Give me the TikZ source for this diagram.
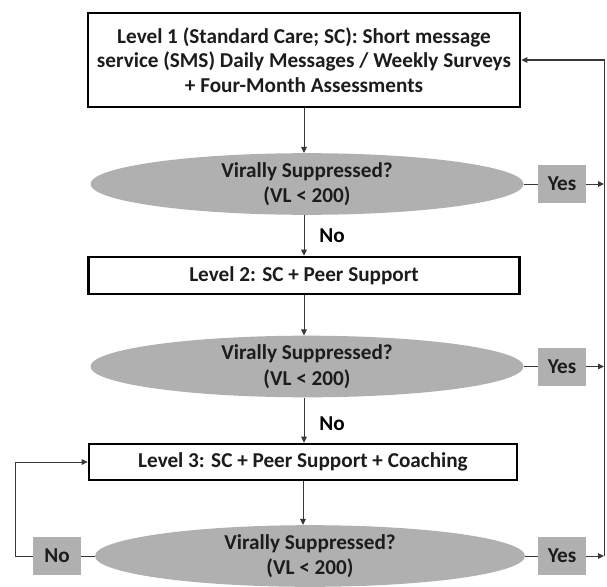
\documentclass[tikz,border=0pt]{standalone}
\usepackage{fontspec}
\setmainfont{Carlito}
\usetikzlibrary{shapes.geometric,arrows.meta}
\definecolor{boxgray}{RGB}{176,176,176}
\definecolor{ink}{RGB}{28,28,28}
\definecolor{wire}{RGB}{55,55,55}
\begin{document}
\begin{tikzpicture}[x=1pt,y=-1pt,
  font=\fontsize{21.2}{24.5}\selectfont\bfseries,
  levelbox/.style={draw=black, line width=2.6pt, fill=white, inner sep=0pt, align=center, text=ink},
  query/.style={ellipse, fill=boxgray, inner sep=0pt, align=center, text=ink,
    font=\fontsize{21.2}{25.5}\selectfont\bfseries,
    minimum width=433pt, minimum height=54pt},
  answer/.style={fill=boxgray, inner sep=0pt, minimum width=48pt, minimum height=38pt, text=ink},
  wirestyle/.style={draw=wire, line width=1pt},
  arr/.style={wirestyle, -{Triangle[length=6pt,width=5.5pt]}},
]
\useasboundingbox (0,0) rectangle (607,586);

% --- levels and decisions ---
\node[levelbox, minimum width=432pt, minimum height=94pt] (lvl1) at (304,60)
  {Level 1 (Standard Care; SC): Short message\\service (SMS) Daily Messages / Weekly Surveys\\+ Four-Month Assessments};
\node[query] (vs1) at (307,184) {Virally Suppressed?\\(VL < 200)};
\node[answer] (yes1) at (562,184) {Yes};
\node (nolbl1) at (332,236) {No};

\node[levelbox, minimum width=431pt, minimum height=37pt] (lvl2) at (304,275.5) {Level 2: SC + Peer Support};
\node[query, minimum height=53pt] (vs2) at (307,366.5) {Virally Suppressed?\\(VL < 200)};
\node[answer] (yes2) at (562,366.5) {Yes};
\node (nolbl2) at (332,424) {No};

\node[levelbox, minimum width=428pt, minimum height=36pt] (lvl3) at (303,462) {Level 3: SC + Peer Support + Coaching};
\node[query, minimum width=430pt, minimum height=56pt] (vs3) at (310,556) {Virally Suppressed?\\(VL < 200)};
\node[answer] (yes3) at (562,556) {Yes};
\node[answer] (no3) at (57,556) {No};

% --- return paths ---
\coordinate (rbot) at (604,556);
\coordinate (lbot) at (15,556);

% --- downward flow ---
\draw[arr] (lvl1.south) -- (lvl1.south |- vs1.north);
\draw[arr] (vs1.south -| lvl1.south) -- (lvl1.south |- lvl2.north);
\draw[arr] (lvl2.south) -- (lvl2.south |- vs2.north);
\draw[arr] (vs2.south -| lvl2.south) -- (lvl2.south |- lvl3.north);
\draw[arr] (lvl3.south) -- (lvl3.south |- vs3.north);

% --- yes branches back to level 1 ---
\draw[wirestyle] (vs1.east) -- (yes1.west);
\draw[wirestyle] (vs2.east) -- (yes2.west);
\draw[wirestyle] (vs3.east) -- (yes3.west);
\draw[arr] (yes1.east) -- (yes1.east -| rbot);
\draw[arr] (yes2.east) -- (yes2.east -| rbot);
\draw[arr] (yes3.east) -- (rbot);
\draw[arr] (rbot) |- (lvl1.east);

% --- no branch loops on level 3 ---
\draw[wirestyle] (vs3.west) -- (no3.east);
\draw[arr] (no3.west) -- (lbot) |- (lvl3.west);
\end{tikzpicture}
\end{document}
